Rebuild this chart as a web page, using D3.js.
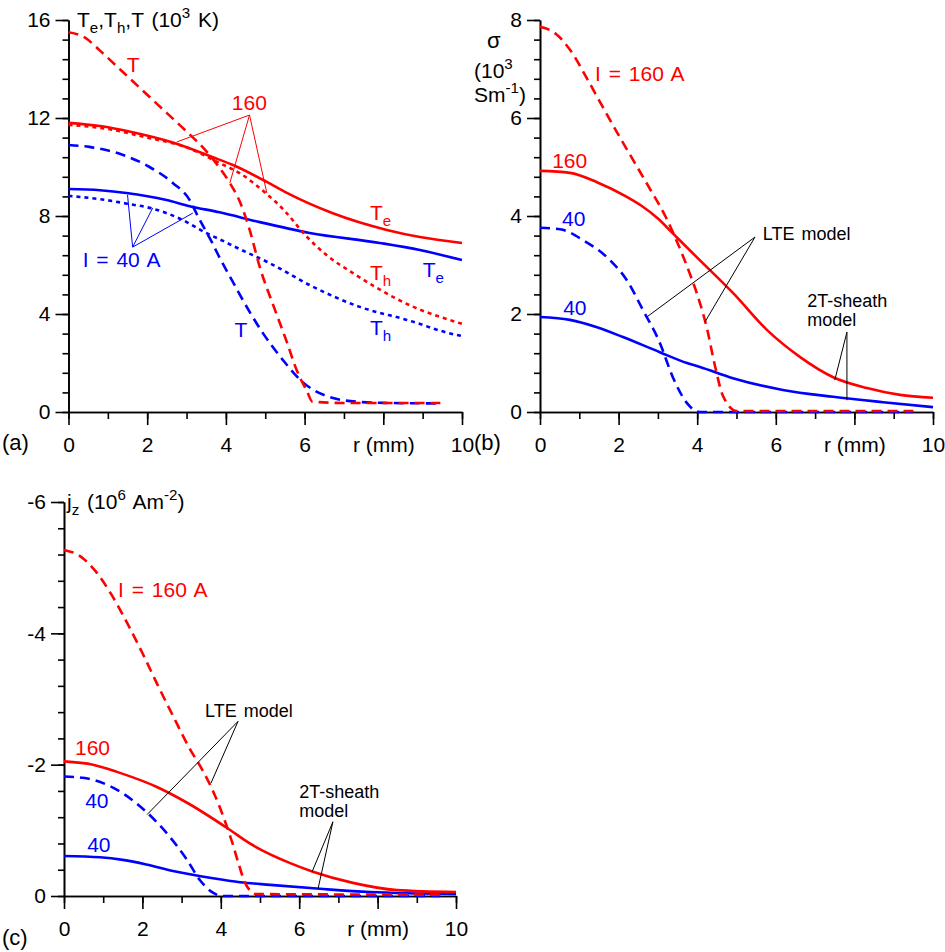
<!DOCTYPE html>
<html>
<head>
<meta charset="utf-8">
<script src="https://cdn.jsdelivr.net/npm/d3@7"></script>
<style>
  body { margin: 0; background: #fff; }
  text { font-family: "Liberation Sans", Arial, sans-serif; }
</style>
</head>
<body>
<div id="chart"></div>
<script>
// ---- data: [r (mm), value] ----
// (a) temperatures, 10^3 K
var a_T_160  = [[0,15.5],[0.4,15.3],[0.8,14.75],[1.2,14.15],[1.6,13.55],[2.0,12.95],[2.5,12.2],[3.0,11.45],[3.5,10.65],[3.8,10.05],[4.1,9.35],[4.35,8.6],[4.6,7.45],[4.86,5.92],[5.24,4.2],[5.55,2.85],[5.8,1.7],[6.06,0.85],[6.2,0.42],[7,0.37],[9.45,0.37]];
var a_Te_160 = [[0,11.8],[0.8,11.67],[1.6,11.43],[2.65,11.0],[3.67,10.4],[4.18,10.08],[5.04,9.39],[5.55,8.94],[6.7,8.12],[8.09,7.43],[8.93,7.14],[10,6.9]];
var a_Th_160 = [[0,11.72],[1,11.55],[2,11.2],[3,10.8],[3.84,10.16],[4.35,9.75],[5.0,8.95],[5.5,8.2],[6.0,7.25],[6.6,6.35],[7.2,5.7],[7.8,5.1],[8.75,4.3],[9.5,3.85],[10,3.6]];
var a_T_40   = [[0,10.9],[0.53,10.82],[1.37,10.5],[2.06,10.0],[2.65,9.35],[3.08,8.65],[3.3,7.95],[3.67,6.85],[3.84,6.3],[4.18,5.3],[4.35,4.8],[4.94,3.22],[5.45,2.12],[5.95,1.22],[6.64,0.61],[7.4,0.41],[8.09,0.37],[9.45,0.35]];
var a_Te_40  = [[0,9.1],[0.8,9.05],[1.47,8.94],[2.49,8.65],[3.08,8.4],[3.84,8.15],[4.86,7.75],[6.13,7.31],[7.91,6.9],[8.93,6.61],[10,6.2]];
var a_Th_40  = [[0,8.82],[0.79,8.69],[1.5,8.5],[2.14,8.3],[2.82,7.9],[3.51,7.3],[3.84,7.05],[4.35,6.65],[5.11,6.08],[6.13,5.18],[7.4,4.29],[8.6,3.76],[9.87,3.14],[10,3.1]];

// (b) electrical conductivity, 10^3 S/m
var b_lte_160 = [[0,7.86],[0.4,7.72],[0.8,7.35],[1.2,6.8],[1.6,6.22],[2.0,5.65],[2.4,5.1],[2.8,4.55],[3.2,3.98],[3.5,3.45],[3.8,2.85],[4.0,2.4],[4.25,1.7],[4.45,0.95],[4.66,0.32],[5.01,0.02],[9.5,0.02]];
var b_2t_160  = [[0,4.92],[0.76,4.88],[1.45,4.69],[2.21,4.39],[2.6,4.2],[3.0,3.95],[3.4,3.63],[4.0,3.15],[4.91,2.43],[5.78,1.67],[6.62,1.12],[7.46,0.71],[8.32,0.49],[9.16,0.35],[10,0.29]];
var b_lte_40  = [[0,3.76],[0.51,3.73],[1.09,3.51],[1.78,3.1],[2.21,2.69],[2.62,2.08],[3.05,1.41],[3.38,0.71],[3.74,0.18],[4.07,0.0],[9.5,0.0]];
var b_2t_40   = [[0,1.94],[0.76,1.88],[1.45,1.73],[2.11,1.53],[3.05,1.22],[3.74,1.0],[4.07,0.92],[4.91,0.69],[6.18,0.45],[7.46,0.31],[8.73,0.2],[10,0.1]];

// (c) axial current density, 10^6 A/m^2
var c_lte_160 = [[0,-5.27],[0.4,-5.18],[0.8,-4.95],[1.2,-4.6],[1.6,-4.17],[2.0,-3.7],[2.4,-3.2],[2.8,-2.72],[3.2,-2.25],[3.5,-1.95],[3.8,-1.6],[4.1,-1.15],[4.3,-0.8],[4.45,-0.5],[4.62,-0.2],[4.9,-0.03],[9.6,-0.02]];
var c_2t_160  = [[0,-2.05],[0.74,-2.0],[1.35,-1.89],[2.37,-1.66],[3.14,-1.42],[4.2,-1.02],[4.74,-0.8],[5.77,-0.5],[6.35,-0.37],[7.37,-0.2],[8.49,-0.09],[10,-0.06]];
var c_lte_40  = [[0,-1.82],[0.48,-1.8],[1.25,-1.65],[2.12,-1.27],[2.7,-0.9],[3.14,-0.55],[3.47,-0.24],[3.8,-0.05],[4.03,0],[9.6,0]];
var c_2t_40   = [[0,-0.61],[0.92,-0.59],[1.5,-0.55],[2.1,-0.48],[2.78,-0.38],[3.8,-0.27],[4.49,-0.21],[5.26,-0.17],[6.53,-0.11],[7.81,-0.06],[10,-0.03]];

// tick values
var xMajor = [0, 2, 4, 6, 8, 10];
var xMinor = d3.range(0, 11, 1);
var xLabels = ["0", "2", "4", "6", "r (mm)", "10"];
var aTicks = [0, 4, 8, 12, 16];
var bTicks = [0, 2, 4, 6, 8];
var cTicks = [0, -2, -4, -6];

var RED = "#ff0000", BLUE = "#0000ff";
var DASH = "10,6", DOT = "4,4";

var svg = d3.select("#chart").append("svg")
    .attr("width", 945)
    .attr("height", 952);

// text with sub/superscripts: parts = [[string, "sub"|"sup"|""], ...]
function richText(g, x, y, parts, size, color) {
    var t = g.append("text").attr("x", x).attr("y", y)
        .style("font-size", size + "px").style("word-spacing", "2px").attr("fill", color);
    var shift = 0;
    parts.forEach(function(p) {
        var target = p[1] === "sub" ? size * 0.3 : p[1] === "sup" ? -size * 0.42 : 0;
        t.append("tspan")
            .attr("dy", target - shift)
            .style("font-size", (p[1] ? size * 0.72 : size) + "px")
            .text(p[0]);
        shift = target;
    });
    return t;
}

function drawPanel(p) {
    var x = d3.scaleLinear().domain([0, 10]).range(p.xRange);
    var y = d3.scaleLinear().domain(p.yDomain).range(p.yRange);
    var g = svg.append("g");

    // x axis, minor then major
    g.append("g")
        .attr("transform", "translate(0," + p.yRange[0] + ")")
        .call(d3.axisBottom(x).tickValues(xMinor).tickSize(7).tickSizeOuter(0).tickFormat(""));
    g.append("g")
        .attr("transform", "translate(0," + p.yRange[0] + ")")
        .call(d3.axisBottom(x).tickValues(xMajor).tickSize(13).tickPadding(12).tickSizeOuter(0)
            .tickFormat(function(d, i) { return xLabels[i]; }));

    // y axis, minor then major
    g.append("g")
        .attr("transform", "translate(" + p.xRange[0] + ",0)")
        .call(d3.axisLeft(y).tickValues(p.yMinor).tickSize(6).tickSizeOuter(0).tickFormat(""));
    g.append("g")
        .attr("transform", "translate(" + p.xRange[0] + ",0)")
        .call(d3.axisLeft(y).tickValues(p.yTicks).tickSize(13).tickPadding(5).tickSizeOuter(0)
            .tickFormat(function(d) { return String(d); }));

    g.selectAll(".domain, .tick line").attr("stroke", "#000").attr("stroke-width", 1.6);
    g.selectAll(".tick text").attr("fill", "#000").style("font-size", "21px")
        .style("font-family", '"Liberation Sans", Arial, sans-serif');

    // curves
    var line = d3.line()
        .x(function(d) { return x(d[0]); })
        .y(function(d) { return y(d[1]); })
        .curve(d3.curveMonotoneX);

    p.series.forEach(function(s) {
        g.append("path")
            .datum(s.data)
            .attr("d", line)
            .attr("fill", "none")
            .attr("stroke", s.color)
            .attr("stroke-width", 2.6)
            .attr("stroke-dasharray", s.dash || null);
    });

    // leader lines
    p.leaders.forEach(function(l) {
        l.to.forEach(function(t) {
            g.append("line")
                .attr("x1", x(l.from[0])).attr("y1", y(l.from[1]))
                .attr("x2", x(t[0])).attr("y2", y(t[1]))
                .attr("stroke", l.color).attr("stroke-width", 1);
        });
    });

    // labels on the curves
    p.labels.forEach(function(lb) {
        richText(g, x(lb.r), y(lb.v), lb.parts, lb.size || 21, lb.color || "#000");
    });

    // axis title and panel letter
    p.title(g);
    g.append("text").attr("x", p.letter[0]).attr("y", p.letter[1])
        .style("font-size", "22px").attr("fill", "#000").text(p.letter[2]);
}

// (a)
drawPanel({
    xRange: [68.5, 462], yRange: [412, 20], yDomain: [0, 16],
    yTicks: aTicks, yMinor: d3.range(0, 16.01, 0.8),
    series: [
        { data: a_T_40, color: BLUE, dash: DASH },
        { data: a_Th_40, color: BLUE, dash: DOT },
        { data: a_Te_40, color: BLUE },
        { data: a_T_160, color: RED, dash: DASH },
        { data: a_Th_160, color: RED, dash: DOT },
        { data: a_Te_160, color: RED }
    ],
    leaders: [
        { from: [4.6, 12.12], to: [[2.75, 11.02], [4.1, 9.35], [5.04, 8.94]], color: RED },
        { from: [1.63, 6.73], to: [[1.5, 8.86], [2.14, 8.33], [3.16, 8.12]], color: BLUE }
    ],
    labels: [
        { r: 1.48, v: 13.88, parts: [["T", ""]], color: RED },
        { r: 4.15, v: 12.33, parts: [["160", ""]], color: RED },
        { r: 0.36, v: 5.92, parts: [["I = 40 A", ""]], color: BLUE },
        { r: 7.66, v: 7.84, parts: [["T", ""], ["e", "sub"]], color: RED },
        { r: 7.66, v: 5.39, parts: [["T", ""], ["h", "sub"]], color: RED },
        { r: 9.0, v: 5.51, parts: [["T", ""], ["e", "sub"]], color: BLUE },
        { r: 7.66, v: 3.14, parts: [["T", ""], ["h", "sub"]], color: BLUE },
        { r: 4.22, v: 3.06, parts: [["T", ""]], color: BLUE }
    ],
    title: function(g) {
        richText(g, 77, 27, [["T", ""], ["e", "sub"], [",T", ""], ["h", "sub"], [",T (10", ""], ["3", "sup"], [" K)", ""]], 21, "#000");
    },
    letter: [2, 450, "(a)"]
});

// (b)
drawPanel({
    xRange: [540, 933], yRange: [412, 20], yDomain: [0, 8],
    yTicks: bTicks, yMinor: d3.range(0, 8.01, 0.4),
    series: [
        { data: b_2t_40, color: BLUE },
        { data: b_2t_160, color: RED },
        { data: b_lte_40, color: BLUE, dash: DASH },
        { data: b_lte_160, color: RED, dash: DASH }
    ],
    leaders: [
        { from: [5.47, 3.57], to: [[2.72, 1.94], [4.2, 1.84]], color: "#000" },
        { from: [7.81, 1.63], to: [[7.5, 0.65], [7.81, 0.24]], color: "#000" }
    ],
    labels: [
        { r: 1.4, v: 6.76, parts: [["I = 160 A", ""]], color: RED },
        { r: 0.31, v: 4.98, parts: [["160", ""]], color: RED },
        { r: 0.56, v: 3.8, parts: [["40", ""]], color: BLUE },
        { r: 0.59, v: 1.98, parts: [["40", ""]], color: BLUE },
        { r: 5.67, v: 3.51, parts: [["LTE model", ""]], size: 18 },
        { r: 6.8, v: 2.14, parts: [["2T-sheath", ""]], size: 18 },
        { r: 6.8, v: 1.76, parts: [["model", ""]], size: 18 }
    ],
    title: function(g) {
        richText(g, 487, 48, [["σ", ""]], 22, "#000");
        richText(g, 474, 78, [["(10", ""], ["3", "sup"]], 21, "#000");
        richText(g, 474, 102, [["Sm", ""], ["-1", "sup"], [")", ""]], 21, "#000");
    },
    letter: [474, 450, "(b)"]
});

// (c)
drawPanel({
    xRange: [64, 456], yRange: [896, 502], yDomain: [0, -6],
    yTicks: cTicks, yMinor: d3.range(0, -6.01, -0.4),
    series: [
        { data: c_2t_40, color: BLUE },
        { data: c_2t_160, color: RED },
        { data: c_lte_40, color: BLUE, dash: DASH },
        { data: c_lte_160, color: RED, dash: DASH }
    ],
    leaders: [
        { from: [4.44, -2.66], to: [[2.12, -1.24], [3.75, -1.72]], color: "#000" },
        { from: [6.86, -1.13], to: [[6.33, -0.37], [6.48, -0.11]], color: "#000" }
    ],
    labels: [
        { r: 1.38, v: -4.55, parts: [["I = 160 A", ""]], color: RED },
        { r: 0.28, v: -2.15, parts: [["160", ""]], color: RED },
        { r: 0.54, v: -1.34, parts: [["40", ""]], color: BLUE },
        { r: 0.59, v: -0.67, parts: [["40", ""]], color: BLUE },
        { r: 3.6, v: -2.73, parts: [["LTE model", ""]], size: 18 },
        { r: 6.0, v: -1.5, parts: [["2T-sheath", ""]], size: 18 },
        { r: 6.0, v: -1.21, parts: [["model", ""]], size: 18 }
    ],
    title: function(g) {
        richText(g, 67, 509, [["j", ""], ["z", "sub"], [" (10", ""], ["6", "sup"], [" Am", ""], ["-2", "sup"], [")", ""]], 21, "#000");
    },
    letter: [2, 945, "(c)"]
});
</script>
</body>
</html>
